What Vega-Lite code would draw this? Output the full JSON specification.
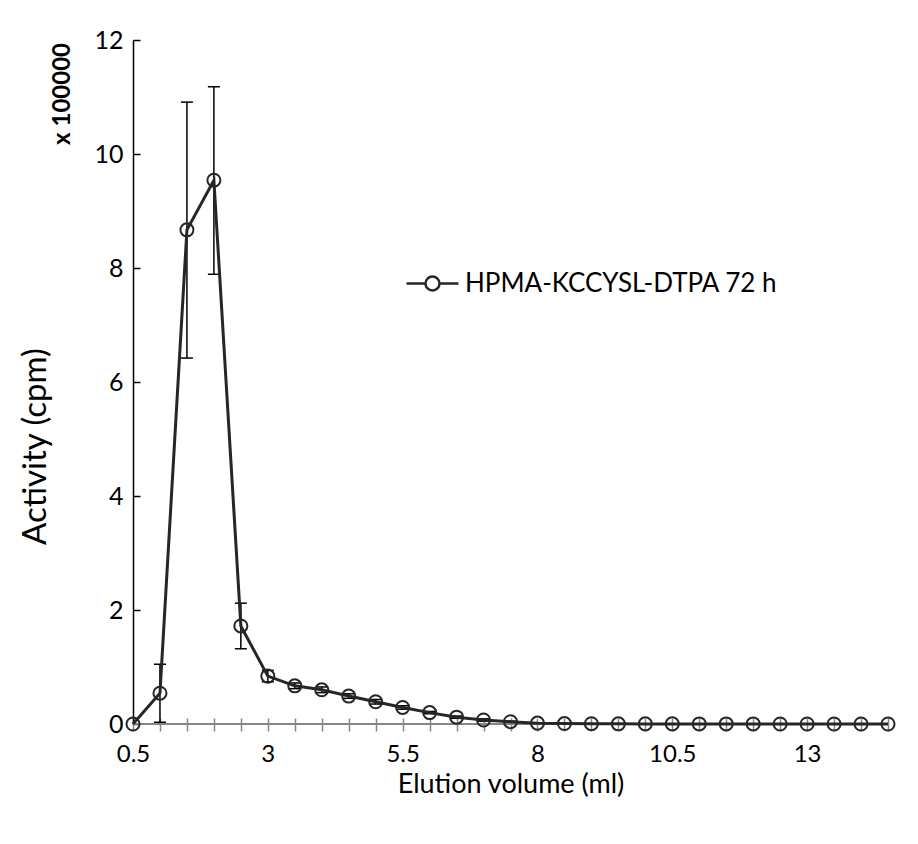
{
  "$schema": "https://vega.github.io/schema/vega-lite/v6.json",
  "width": 755,
  "height": 684,
  "autosize": {"type": "none"},
  "padding": {"left": 133, "top": 40, "right": 30, "bottom": 120},
  "background": "white",
  "config": {
    "view": {"stroke": null},
    "font": "Lato",
    "axis": {"grid": false, "labelFont": "Lato", "titleFont": "Lato", "labelColor": "#000000", "titleColor": "#000000", "titleFontWeight": "normal"}
  },
  "title": {"text": "x 100000", "orient": "left", "anchor": "end", "fontWeight": "bold", "fontSize": 24, "font": "Lato", "color": "#000000", "offset": -56, "dx": -15},
  "data": {
    "values": [
      {"v": 0.5, "a": 0.0, "s": "HPMA-KCCYSL-DTPA 72 h"},
      {"v": 1.0, "a": 0.54, "lo": 0.03, "hi": 1.05, "s": "HPMA-KCCYSL-DTPA 72 h"},
      {"v": 1.5, "a": 8.67, "lo": 6.42, "hi": 10.91, "s": "HPMA-KCCYSL-DTPA 72 h"},
      {"v": 2.0, "a": 9.54, "lo": 7.89, "hi": 11.18, "s": "HPMA-KCCYSL-DTPA 72 h"},
      {"v": 2.5, "a": 1.72, "lo": 1.32, "hi": 2.12, "s": "HPMA-KCCYSL-DTPA 72 h"},
      {"v": 3.0, "a": 0.84, "lo": 0.74, "hi": 0.94, "s": "HPMA-KCCYSL-DTPA 72 h"},
      {"v": 3.5, "a": 0.67, "lo": 0.62, "hi": 0.72, "s": "HPMA-KCCYSL-DTPA 72 h"},
      {"v": 4.0, "a": 0.6, "lo": 0.55, "hi": 0.65, "s": "HPMA-KCCYSL-DTPA 72 h"},
      {"v": 4.5, "a": 0.49, "lo": 0.45, "hi": 0.53, "s": "HPMA-KCCYSL-DTPA 72 h"},
      {"v": 5.0, "a": 0.39, "lo": 0.35, "hi": 0.43, "s": "HPMA-KCCYSL-DTPA 72 h"},
      {"v": 5.5, "a": 0.29, "lo": 0.26, "hi": 0.32, "s": "HPMA-KCCYSL-DTPA 72 h"},
      {"v": 6.0, "a": 0.2, "lo": 0.18, "hi": 0.22, "s": "HPMA-KCCYSL-DTPA 72 h"},
      {"v": 6.5, "a": 0.12, "lo": 0.1, "hi": 0.14, "s": "HPMA-KCCYSL-DTPA 72 h"},
      {"v": 7.0, "a": 0.07, "lo": 0.05, "hi": 0.09, "s": "HPMA-KCCYSL-DTPA 72 h"},
      {"v": 7.5, "a": 0.04, "lo": 0.03, "hi": 0.05, "s": "HPMA-KCCYSL-DTPA 72 h"},
      {"v": 8.0, "a": 0.015, "s": "HPMA-KCCYSL-DTPA 72 h"},
      {"v": 8.5, "a": 0.008, "s": "HPMA-KCCYSL-DTPA 72 h"},
      {"v": 9.0, "a": 0.005, "s": "HPMA-KCCYSL-DTPA 72 h"},
      {"v": 9.5, "a": 0.003, "s": "HPMA-KCCYSL-DTPA 72 h"},
      {"v": 10.0, "a": 0.002, "s": "HPMA-KCCYSL-DTPA 72 h"},
      {"v": 10.5, "a": 0.002, "s": "HPMA-KCCYSL-DTPA 72 h"},
      {"v": 11.0, "a": 0.001, "s": "HPMA-KCCYSL-DTPA 72 h"},
      {"v": 11.5, "a": 0.001, "s": "HPMA-KCCYSL-DTPA 72 h"},
      {"v": 12.0, "a": 0.001, "s": "HPMA-KCCYSL-DTPA 72 h"},
      {"v": 12.5, "a": 0.0, "s": "HPMA-KCCYSL-DTPA 72 h"},
      {"v": 13.0, "a": 0.0, "s": "HPMA-KCCYSL-DTPA 72 h"},
      {"v": 13.5, "a": 0.0, "s": "HPMA-KCCYSL-DTPA 72 h"},
      {"v": 14.0, "a": 0.0, "s": "HPMA-KCCYSL-DTPA 72 h"},
      {"v": 14.5, "a": 0.0, "s": "HPMA-KCCYSL-DTPA 72 h"}
    ]
  },
  "encoding": {
    "x": {
      "field": "v", "type": "quantitative",
      "scale": {"domain": [0.5, 14.5], "nice": false, "zero": false},
      "axis": {
        "title": "Elution volume (ml)",
        "values": [0.5,1,1.5,2,2.5,3,3.5,4,4.5,5,5.5,6,6.5,7,7.5,8,8.5,9,9.5,10,10.5,11,11.5,12,12.5,13,13.5,14,14.5],
        "labelExpr": "(datum.value - 0.5) % 2.5 == 0 ? format(datum.value, '~g') : ''",
        "labelFontSize": 24, "titleFontSize": 27,
        "domain": false, "offset": -6, "tickSize": 13, "tickColor": "#868686", "tickWidth": 1.5,
        "labelPadding": 11, "titleY": 66, "titleBaseline": "middle", "labelFlush": false, "labelOverlap": false
      }
    },
    "y": {
      "field": "a", "type": "quantitative",
      "scale": {"domain": [0, 12], "nice": false},
      "axis": {
        "title": "Activity (cpm)",
        "values": [0, 2, 4, 6, 8, 10, 12],
        "labelFontSize": 25, "titleFontSize": 33,
        "domainColor": "#000000", "domainWidth": 1.5,
        "tickColor": "#000000", "tickWidth": 1.5, "tickSize": -7,
        "labelPadding": 17, "titleX": -98, "titleY": 406, "titleBaseline": "middle", "titleAlign": "center", "titleAngle": -90
      }
    }
  },
  "layer": [
    {
      "mark": {"type": "rule", "color": "#868686", "strokeWidth": 1.5},
      "encoding": {"y": {"datum": 0}, "x": null}
    },
    {
      "mark": {"type": "rule", "color": "#000000", "strokeWidth": 1.5},
      "encoding": {"y": {"field": "lo", "type": "quantitative"}, "y2": {"field": "hi"}}
    },
    {
      "mark": {"type": "tick", "orient": "horizontal", "color": "#000000", "size": 12, "thickness": 1.5, "opacity": 1},
      "encoding": {"y": {"field": "lo", "type": "quantitative"}}
    },
    {
      "mark": {"type": "tick", "orient": "horizontal", "color": "#000000", "size": 12, "thickness": 1.5, "opacity": 1},
      "encoding": {"y": {"field": "hi", "type": "quantitative"}}
    },
    {
      "mark": {"type": "line", "strokeWidth": 3},
      "encoding": {
        "color": {
          "field": "s", "type": "nominal",
          "scale": {"range": ["#262626"]},
          "legend": {
            "title": null, "orient": "none", "legendX": 272, "legendY": 216,
            "symbolType": "M-1,0H-0.27A0.27,0.27,0,1,1,0.27,0A0.27,0.27,0,1,1,-0.27,0M0.27,0H1",
            "symbolSize": 2704, "symbolStrokeWidth": 2.5, "symbolStrokeColor": "#262626", "symbolFillColor": "transparent", "symbolOpacity": 1,
            "labelFont": "Lato", "labelFontSize": 26, "labelColor": "#000000", "labelOffset": 5, "labelLimit": 600, "padding": 0
          }
        }
      }
    },
    {
      "mark": {"type": "point", "shape": "circle", "filled": false, "size": 170, "stroke": "#262626", "strokeWidth": 2, "opacity": 1}
    }
  ]
}
